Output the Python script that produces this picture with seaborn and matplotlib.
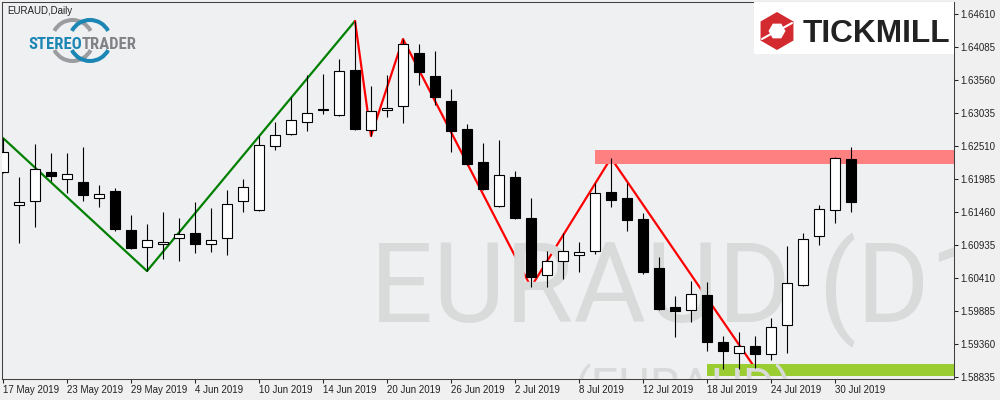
import numpy as np
import pandas as pd
import matplotlib
matplotlib.use('Agg')
import matplotlib.pyplot as plt
import seaborn as sns
from matplotlib.patches import Rectangle, Arc, RegularPolygon

symbol = 'EURAUD'
timeframe = 'Daily'
dates = pd.bdate_range('2019-05-17', '2019-07-31')

opens = [1.62096, 1.61571, 1.61635, 1.62096, 1.61985, 1.61937, 1.61683, 1.61794, 1.61173, 1.60903,
         1.60951, 1.61046, 1.61126, 1.60951, 1.61046, 1.61635, 1.61492, 1.62510, 1.62701, 1.62892,
         1.63083, 1.63003, 1.63719, 1.62764, 1.63083, 1.63146, 1.63989, 1.63624, 1.63226, 1.62780,
         1.62255, 1.61555, 1.62017, 1.61364, 1.60457, 1.60680, 1.60776, 1.60839, 1.61778, 1.61683,
         1.61348, 1.60569, 1.59948, 1.59901, 1.60139, 1.59391, 1.59216, 1.59328, 1.59201, 1.59662,
         1.60298, 1.61078, 1.61492, 1.62303]
highs = [1.62637, 1.62017, 1.62542, 1.62398, 1.62398, 1.62494, 1.61889, 1.61842, 1.61412, 1.61269,
         1.61460, 1.61364, 1.61619, 1.61523, 1.61810, 1.61985, 1.62669, 1.62892, 1.63289, 1.63639,
         1.63655, 1.63894, 1.64499, 1.63464, 1.63639, 1.64212, 1.64133, 1.64021, 1.63417, 1.62860,
         1.62558, 1.62605, 1.62112, 1.61683, 1.60839, 1.61126, 1.60982, 1.61921, 1.62319, 1.61921,
         1.61444, 1.60744, 1.60123, 1.60362, 1.60346, 1.59487, 1.59551, 1.59487, 1.59773, 1.60919,
         1.61126, 1.61571, 1.62335, 1.62494]
lows = [1.62080, 1.60967, 1.61221, 1.61953, 1.61762, 1.61635, 1.61539, 1.61157, 1.60871, 1.60521,
        1.60712, 1.60680, 1.60808, 1.60823, 1.60776, 1.61460, 1.61476, 1.62446, 1.62685, 1.62748,
        1.63019, 1.62987, 1.62764, 1.62669, 1.62971, 1.62876, 1.63480, 1.63162, 1.62414, 1.62208,
        1.61810, 1.61539, 1.61348, 1.60266, 1.60266, 1.60394, 1.60505, 1.60792, 1.61539, 1.61157,
        1.60473, 1.59901, 1.59471, 1.59710, 1.59248, 1.58962, 1.58962, 1.58978, 1.59105, 1.59216,
        1.60282, 1.60935, 1.61285, 1.61460]
closes = [1.62414, 1.61619, 1.62144, 1.62033, 1.62064, 1.61730, 1.61746, 1.61189, 1.60887, 1.61014,
          1.60982, 1.61110, 1.60951, 1.61014, 1.61587, 1.61857, 1.62526, 1.62685, 1.62923, 1.63035,
          1.63099, 1.63703, 1.62780, 1.63067, 1.63114, 1.64133, 1.63687, 1.63289, 1.62748, 1.62223,
          1.61826, 1.62048, 1.61364, 1.60426, 1.60680, 1.60839, 1.60823, 1.61762, 1.61651, 1.61332,
          1.60505, 1.59916, 1.59885, 1.60155, 1.59391, 1.59248, 1.59328, 1.59201, 1.59630, 1.60330,
          1.61030, 1.61507, 1.62319, 1.61619]

# zigzag pivots (bar index)
zz_up_bars = [0, 9, 22]
zz_down_bars = [22, 23, 25, 33, 38, 47]
zz_up_prices = [highs[0], lows[9], highs[22]]
zz_down_prices = [highs[22], lows[23], highs[25], lows[33], highs[38], lows[47]]

# supply / demand zones
resist_bar, resist_lo, resist_hi = 37, 1.62223, 1.62446
support_bar, support_lo, support_hi = 44, 1.58850, 1.59041

price_ticks = [1.58835, 1.59360, 1.59885, 1.60410, 1.60935, 1.61460,
               1.61985, 1.62510, 1.63035, 1.63560, 1.64085, 1.64610]

df = pd.DataFrame({'date': dates, 'open': opens, 'high': highs, 'low': lows, 'close': closes})
df['bar'] = np.arange(len(df))
df['bull'] = df['close'] >= df['open']

sns.set_style('white', {'axes.facecolor': '#eff0f2', 'figure.facecolor': '#f0f0f0'})
plt.rcParams['font.family'] = ['Liberation Sans', 'DejaVu Sans']

fig = plt.figure(figsize=(10, 4), dpi=100)
ax = fig.add_axes([0.002, 0.0525, 0.952, 0.9425])
ax.set_xlim(-0.0625, 59.4375)
ax.set_ylim(1.58803, 1.64801)

# zones
ax.add_patch(Rectangle((resist_bar, resist_lo), 40, resist_hi - resist_lo,
                       facecolor='#ff8080', edgecolor='none', zorder=2.5))
ax.add_patch(Rectangle((support_bar, support_lo), 40, support_hi - support_lo,
                       facecolor='#9acd32', edgecolor='none', zorder=2.5))

# zigzag
sns.lineplot(x=zz_up_bars, y=zz_up_prices, ax=ax, color='#008000', lw=1.6, sort=False, zorder=2)
sns.lineplot(x=zz_down_bars, y=zz_down_prices, ax=ax, color='#ff0000', lw=1.6, sort=False, zorder=2)

# watermark
ax.text(22.94, 1.59710, f'{symbol} (D1)', fontsize=80, color='#d9dada',
        family='Roboto', ha='left', va='baseline', zorder=3, clip_on=True)
ax.text(35.75, 1.58437, f'({symbol})', fontsize=35, color='#d9dada',
        family='Roboto', ha='left', va='baseline', zorder=3, clip_on=True)

# candles
ax.vlines(df['bar'], df['low'], df['high'], color='black', lw=0.8, zorder=4)
body_lo = np.minimum(df['open'], df['close'])
body_h = np.maximum((df['close'] - df['open']).abs(), 0.00008)
ax.bar(df['bar'], body_h, bottom=body_lo, width=0.62,
       color=np.where(df['bull'], 'white', 'black'), edgecolor='black', linewidth=0.8, zorder=5)

# axes style
for s in ax.spines.values():
    s.set_visible(True)
    s.set_color('#404040')
    s.set_linewidth(0.75)

ax.yaxis.tick_right()
ax.set_yticks(price_ticks)
ax.set_yticklabels([f'{p:.5f}' for p in price_ticks])
tick_bars = list(range(0, len(df), 4))
ax.set_xticks(tick_bars)
ax.set_xticklabels([f'{d.day} {d:%b %Y}' for d in df['date'].iloc[tick_bars]], ha='left')
ax.tick_params(axis='y', right=True, left=False, labelright=True, labelleft=False,
               direction='out', length=3, width=0.75, pad=1.5, labelsize=7, colors='#222222')
ax.tick_params(axis='x', bottom=True, direction='out', length=3, width=0.75, pad=1.5,
               labelsize=7, colors='#222222')
ax.set_xlabel('')
ax.set_ylabel('')

# overlay in pixel coordinates for logos / caption
ov = fig.add_axes([0, 0, 1, 1])
ov.set_xlim(0, 1000)
ov.set_ylim(400, 0)
ov.axis('off')

ov.text(7, 11, f'{symbol},{timeframe}', fontsize=7, color='#222222', ha='left', va='center')

# stereotrader logo
for cx, col in [(72.5, '#9a9c9f'), (90, '#1b86b4')]:
    ov.add_patch(Arc((cx, 40.5), 41, 41, theta1=208, theta2=332, color=col, lw=2.9))
    ov.add_patch(Arc((cx, 40.5), 41, 41, theta1=28, theta2=152, color=col, lw=2.9))
logo_font = ['Roboto Condensed', 'Roboto']
ov.text(82, 49, 'STEREO', fontsize=12, fontweight='bold', color='#1b86b4',
        family=logo_font, ha='right', va='baseline')
ov.text(82, 49, 'TRADER', fontsize=12, fontweight='bold', color='#808285',
        family=logo_font, ha='left', va='baseline')

# tickmill logo
ov.add_patch(Rectangle((754, 2), 200, 52, facecolor='white', edgecolor='none'))
ov.add_patch(RegularPolygon((777, 31), 6, radius=19, facecolor='#d32a2f', edgecolor='none'))
ov.add_patch(RegularPolygon((777, 31), 6, radius=8.5, orientation=np.pi / 6,
                            facecolor='white', edgecolor='none'))
ov.plot([762, 771], [39, 34], color='white', lw=1.5)
ov.plot([783, 792], [28, 23], color='white', lw=1.5)
ov.text(803, 42, 'TICKMILL', fontsize=22.8, fontweight='bold', color='#222222',
        ha='left', va='baseline')

fig.savefig('out.png', dpi=100)
